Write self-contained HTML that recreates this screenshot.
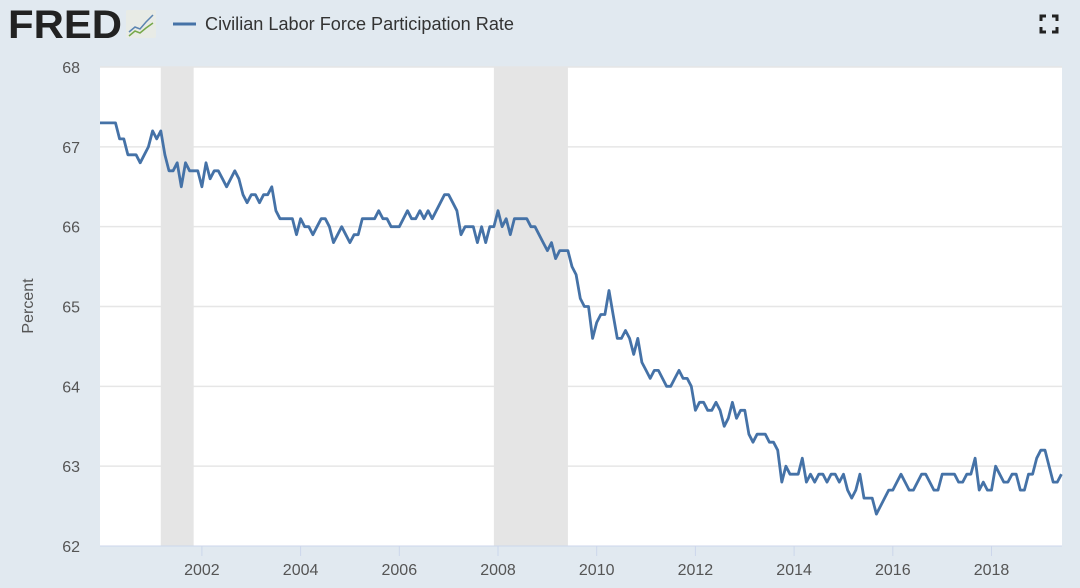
<!DOCTYPE html>
<html><head><meta charset="utf-8"><style>
html,body{margin:0;padding:0;background:#e1e9f0;width:1080px;height:588px;overflow:hidden;font-family:"Liberation Sans",sans-serif}
</style></head><body>
<svg id="chart" width="1080" height="588" xmlns="http://www.w3.org/2000/svg">
<rect x="0" y="0" width="1080" height="588" fill="#e1e9f0"/>
<g>
<text x="8" y="38" font-size="40" font-weight="bold" fill="#222" font-family="Liberation Sans, sans-serif" textLength="114" lengthAdjust="spacingAndGlyphs">FRED</text>
<rect x="126" y="10" width="30" height="28" rx="2" fill="#e8ebe6"/>
<polyline points="129,32 135,27 140,29 146,22 153,15" fill="none" stroke="#5b84b1" stroke-width="1.5"/>
<polyline points="129,36 135,31 140,33 146,28 153,23" fill="none" stroke="#77a84a" stroke-width="1.5"/>
</g>
<g>
<line x1="173" y1="24" x2="196" y2="24" stroke="#4572a7" stroke-width="3"/>
<text x="205" y="30" font-size="18" fill="#333" textLength="309" lengthAdjust="spacingAndGlyphs">Civilian Labor Force Participation Rate</text>
</g>
<g fill="none" stroke="#222" stroke-width="3">
<path d="M1041,21 v-5 h5 M1052,16 h5 v5 M1057,27 v5 h-5 M1046,32 h-5 v-5"/>
</g>
<rect x="100" y="67" width="962" height="479" fill="#fff"/>
<g id="grid"></g>
<g id="shade"></g>
<g id="yticks"></g>
<g id="xticks"></g>
<text transform="translate(33,306) rotate(-90)" text-anchor="middle" font-size="16" fill="#555">Percent</text>
<path id="series" fill="none" stroke="#4572a7" stroke-width="2.8" stroke-linejoin="round"/>
</svg>
<script>
const startYear = 2000;
const values = [
67.3,67.3,67.3,67.3,67.1,67.1,66.9,66.9,66.9,66.8,66.9,67.0,
67.2,67.1,67.2,66.9,66.7,66.7,66.8,66.5,66.8,66.7,66.7,66.7,
66.5,66.8,66.6,66.7,66.7,66.6,66.5,66.6,66.7,66.6,66.4,66.3,
66.4,66.4,66.3,66.4,66.4,66.5,66.2,66.1,66.1,66.1,66.1,65.9,
66.1,66.0,66.0,65.9,66.0,66.1,66.1,66.0,65.8,65.9,66.0,65.9,
65.8,65.9,65.9,66.1,66.1,66.1,66.1,66.2,66.1,66.1,66.0,66.0,
66.0,66.1,66.2,66.1,66.1,66.2,66.1,66.2,66.1,66.2,66.3,66.4,
66.4,66.3,66.2,65.9,66.0,66.0,66.0,65.8,66.0,65.8,66.0,66.0,
66.2,66.0,66.1,65.9,66.1,66.1,66.1,66.1,66.0,66.0,65.9,65.8,
65.7,65.8,65.6,65.7,65.7,65.7,65.5,65.4,65.1,65.0,65.0,64.6,
64.8,64.9,64.9,65.2,64.9,64.6,64.6,64.7,64.6,64.4,64.6,64.3,
64.2,64.1,64.2,64.2,64.1,64.0,64.0,64.1,64.2,64.1,64.1,64.0,
63.7,63.8,63.8,63.7,63.7,63.8,63.7,63.5,63.6,63.8,63.6,63.7,
63.7,63.4,63.3,63.4,63.4,63.4,63.3,63.3,63.2,62.8,63.0,62.9,
62.9,62.9,63.1,62.8,62.9,62.8,62.9,62.9,62.8,62.9,62.9,62.8,
62.9,62.7,62.6,62.7,62.9,62.6,62.6,62.6,62.4,62.5,62.6,62.7,
62.7,62.8,62.9,62.8,62.7,62.7,62.8,62.9,62.9,62.8,62.7,62.7,
62.9,62.9,62.9,62.9,62.8,62.8,62.9,62.9,63.1,62.7,62.8,62.7,
62.7,63.0,62.9,62.8,62.8,62.9,62.9,62.7,62.7,62.9,62.9,63.1,
63.2,63.2,63.0,62.8,62.8,62.9
];
const yTicks = [62,63,64,65,66,67,68];
const xTicks = [2002,2004,2006,2008,2010,2012,2014,2016,2018];
const recessionStart = [2001+2/12, 2007+11/12];
const recessionEnd = [2001+10/12, 2009+5/12];

const NS='http://www.w3.org/2000/svg';
const X0=103.2, PXY=49.35, Y0=546, PPU=79.83;
const xs = t => X0 + (t-startYear)*PXY;
const ys = v => Y0 - (v-62)*PPU;
function mk(tag, attrs, parent){const e=document.createElementNS(NS,tag);for(const k in attrs)e.setAttribute(k,attrs[k]);parent.appendChild(e);return e;}

const grid=document.getElementById('grid'), yt=document.getElementById('yticks'), xt=document.getElementById('xticks'), sh=document.getElementById('shade');
yTicks.forEach(v=>{
  if(v>62){const g=mk('line',{x1:100,x2:1062,y1:ys(v),y2:ys(v),stroke:'#e6e6e6','stroke-width':1.5},grid);
  
  }
  const t=mk('text',{x:80,y:ys(v)+6,'text-anchor':'end','font-size':16,fill:'#555'},yt);
  t.textContent=v;
  
  
});
recessionStart.forEach((s,i)=>{
  const r=mk('rect',{x:xs(s),y:67,width:xs(recessionEnd[i])-xs(s),height:479,fill:'#e5e5e5'},sh);
  
  
});
mk('line',{x1:100,x2:1062,y1:546,y2:546,stroke:'#ccd6eb','stroke-width':1},xt);
xTicks.forEach(y=>{
  const x=xs(y);
  const tk=mk('line',{x1:x,x2:x,y1:546,y2:556,stroke:'#ccd6eb','stroke-width':1},xt);
  
  
  const t=mk('text',{x:x,y:575,'text-anchor':'middle','font-size':16,fill:'#555'},xt);
  t.textContent=y;
  
  
});
let d='M100,'+ys(values[0]).toFixed(1);
values.forEach((v,i)=>{d+='L'+xs(startYear+i/12).toFixed(1)+','+ys(v).toFixed(1);});
document.getElementById('series').setAttribute('d',d);
</script>
</body></html>
